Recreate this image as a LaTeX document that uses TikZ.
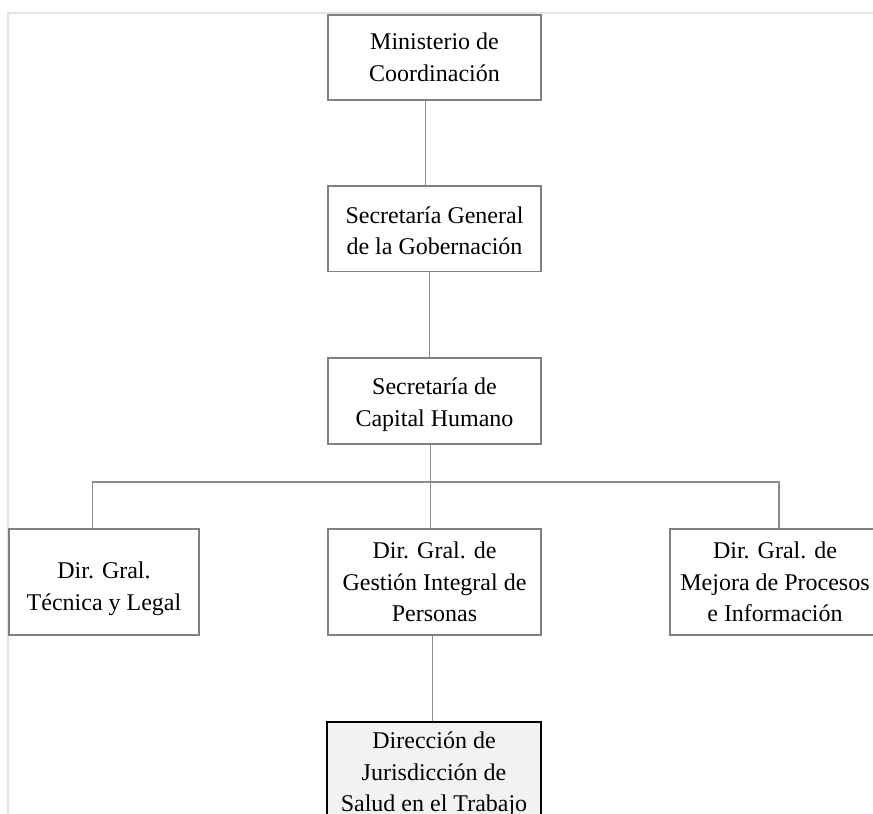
\documentclass[tikz,border=0pt]{standalone}
\usepackage{fontspec}
\setmainfont{Liberation Serif}
\definecolor{boxline}{HTML}{808080}
\definecolor{wireline}{HTML}{8C8C8C}
\definecolor{frameline}{HTML}{E3E3E3}
\definecolor{unitfill}{HTML}{F2F2F2}
% invisible strut that lowers the first text line of a box
\newcommand\droptext[1]{\rule{0pt}{#1}}
\tikzset{
  orgbox/.style={draw=boxline, line width=1.8pt, fill=white, align=center,
    font=\fontsize{24}{31.5}\selectfont, inner sep=0pt, minimum width=213pt},
  unitbox/.style={draw=black, line width=1.8pt, fill=unitfill, align=center,
    font=\fontsize{24}{31.5}\selectfont, inner xsep=0pt, inner ysep=10pt,
    minimum width=214pt, anchor=north},
  wire/.style={draw=wireline, line width=1.5pt}
}
\begin{document}
\begin{tikzpicture}[x=1pt,y=-1pt]
  \useasboundingbox (0,0) rectangle (873,814);
  \clip (0,0) rectangle (873,814);
  \fill[white] (0,0) rectangle (873,814);
  % page frame
  \draw[frameline, line width=2pt] (7.5,814) -- (7.5,12.5) -- (873,12.5);

  % hierarchy
  \node[orgbox, minimum height=85pt] (m1) at (434.5,57.5) {Ministerio de\\Coordinación};
  \node[orgbox, minimum height=85.5pt] (m2) at (434.5,228.75) {\droptext{21pt}Secretaría General\\de la Gobernación};
  \node[orgbox, minimum height=86pt] (m3) at (434.5,401) {\droptext{24.5pt}Secretaría de\\Capital Humano};

  \node[orgbox, minimum width=190pt, minimum height=106pt] (d1) at (104,582) {\droptext{30pt}Dir. Gral.\\Técnica y Legal};
  \node[orgbox, minimum height=106pt] (d2) at (434.5,582) {Dir. Gral. de\\Gestión Integral de\\Personas};
  \node[orgbox, minimum width=210pt, minimum height=106pt] (d3) at (775,582) {Dir. Gral. de\\Mejora de Procesos\\e Información};

  \node[unitbox] (u1) at (434,721) {Dirección de\\Jurisdicción de\\Salud en el Trabajo};

  % connectors
  \coordinate (bus) at (430.7,482);
  \draw[wire] ([xshift=-8.8pt]m1.south) -- ([xshift=-8.8pt]m2.north);
  \draw[wire] ([xshift=-5.2pt]m2.south) -- ([xshift=-5.2pt]m3.north);
  \draw[wire] ([xshift=-3.8pt]m3.south) -- ([xshift=-3.8pt]d2.north);
  \draw[wire] ([xshift=-11.3pt]d1.north) |- (bus) -| ([xshift=4pt]d3.north);
  \draw[wire] ([xshift=-1.8pt]d2.south) -- ([xshift=-1.3pt]u1.north);
\end{tikzpicture}
\end{document}
